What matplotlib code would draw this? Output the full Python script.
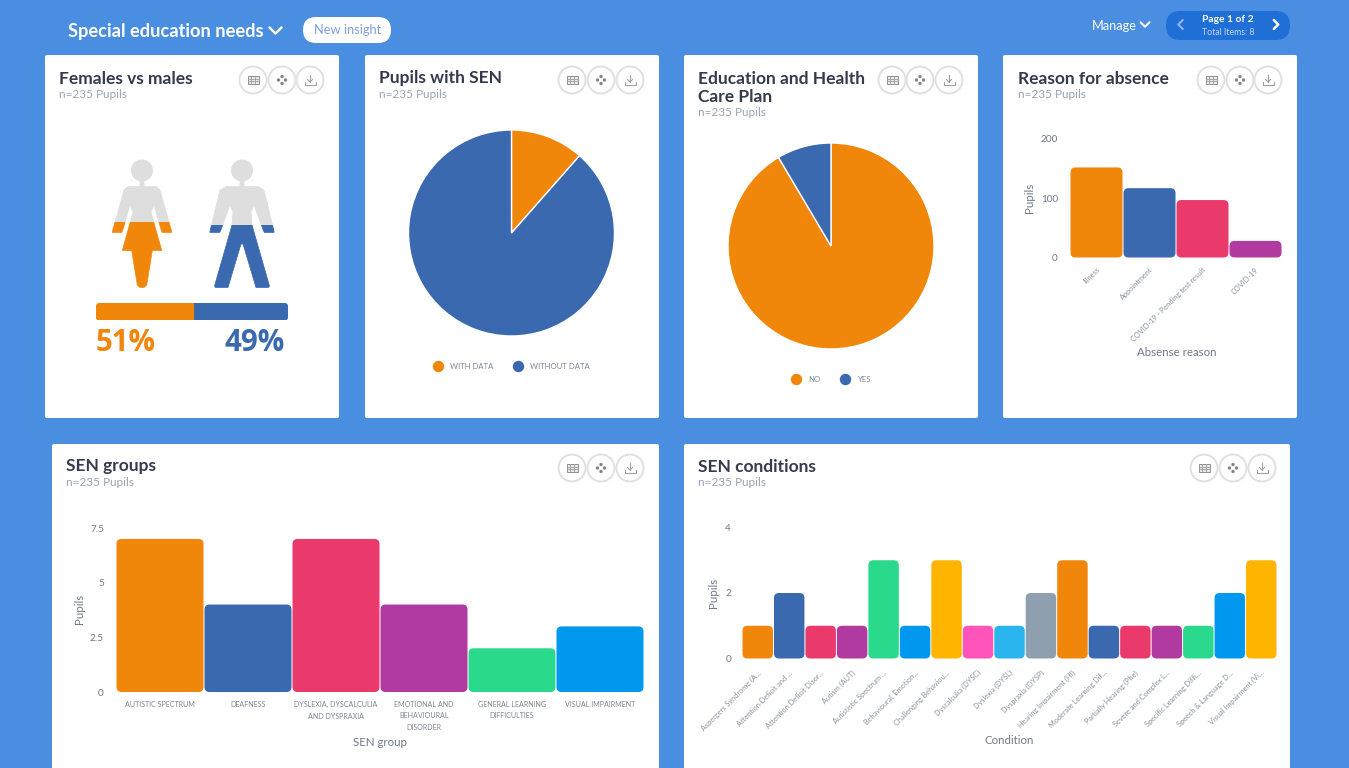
import matplotlib
matplotlib.use("Agg")
import matplotlib.pyplot as plt
from matplotlib.patches import FancyBboxPatch, Circle, Polygon, Rectangle
from matplotlib.lines import Line2D
from matplotlib.transforms import ScaledTranslation

W, H = 1349, 768
BG = "#4A8EE2"
ORANGE, BLUE, PINK, PURPLE, GREEN, SKY = "#F0860A", "#3A69B0", "#EA3A6B", "#B03AA0", "#2BD98C", "#0098EE"
YELLOW, HOTPINK, LIGHTBLUE, SLATE = "#FFB400", "#FF55BB", "#2BB5EE", "#8EA0B0"
TITLE_C, SUB_C, AXIS_C = "#333B4D", "#98A3B3", "#6F7A8A"
HEAD_FONT, BODY_FONT = "Lato", "Lato"

# Data
gender_labels = ["51%", "49%"]
gender_share = [51, 49]
sen_labels = ["WITH DATA", "WITHOUT DATA"]
sen_values = [27, 208]
ehcp_labels = ["NO", "YES"]
ehcp_values = [215, 20]
absence_reasons = ["Illness", "Appointment", "COVID-19 - Pending test result", "COVID-19"]
absence_values = [152, 117, 97, 28]
group_names = ["AUTISTIC SPECTRUM", "DEAFNESS", "DYSLEXIA, DYSCALCULIA\nAND DYSPRAXIA",
               "EMOTIONAL AND\nBEHAVIOURAL\nDISORDER", "GENERAL LEARNING\nDIFFICULTIES", "VISUAL IMPAIRMENT"]
group_values = [7, 4, 7, 4, 2, 3]
condition_names = ["Aspergers Syndrome (A...", "Attention Deficit and ...", "Attention Deficit Disor...",
                   "Autism (AUT)", "Autististic Spectrum ...", "Behavioural, Emotion...",
                   "Challenging Behaviou...", "Dyscalculia (DYSC)", "Dyslexia (DYSL)", "Dyspraxia (DYSP)",
                   "Hearing Impairment (HI)", "Moderate Learning Dif...", "Partially Hearing (Phe)",
                   "Severe and Complex L...", "Specific Learning Diffi...", "Speech & Language D...",
                   "Visual Impairment (Vi..."]
condition_values = [1, 2, 1, 1, 3, 1, 3, 1, 1, 2, 3, 1, 1, 1, 1, 2, 3]
condition_colors = [ORANGE, BLUE, PINK, PURPLE, GREEN, SKY, YELLOW, HOTPINK, LIGHTBLUE, SLATE,
                    ORANGE, BLUE, PINK, PURPLE, GREEN, SKY, YELLOW]

def fs(px):
    return px * 0.72

fig = plt.figure(figsize=(W / 100, H / 100), dpi=100, facecolor=BG)
page = fig.add_axes([0, 0, 1, 1], zorder=0)
page.set_xlim(0, W)
page.set_ylim(H, 0)
page.axis("off")

def axes_px(x0, y0, x1, y1):
    """Axes spanning a pixel box given with y measured from the top."""
    ax = fig.add_axes([x0 / W, 1 - y1 / H, (x1 - x0) / W, (y1 - y0) / H], zorder=2)
    ax.patch.set_alpha(0)
    return ax

def card(x0, y0, x1, y1):
    page.add_patch(FancyBboxPatch((x0, y0), x1 - x0, y1 - y0, boxstyle="round,pad=0,rounding_size=2",
                                  fc="white", ec="none", zorder=1))

def icon_buttons(xs, y):
    for i, x in enumerate(xs):
        page.add_patch(Circle((x, y), 13.5, fc="white", ec="#E0E0E0", lw=1.4, zorder=3))
        c = "#A0A0A0"
        if i == 0:
            page.add_patch(Rectangle((x - 5.5, y - 4), 11, 8, fc="#E8E8E8", ec="#909090", lw=0.7, zorder=4))
            page.plot([x - 5.5, x + 5.5], [y - 1.3, y - 1.3], color=c, lw=0.6, zorder=4)
            page.plot([x - 5.5, x + 5.5], [y + 1.3, y + 1.3], color=c, lw=0.6, zorder=4)
            for dx in (-2, 2):
                page.plot([x + dx, x + dx], [y - 4, y + 4], color=c, lw=0.6, zorder=4)
        elif i == 1:
            for dx, dy in ((0, -3.5), (-3.5, 0), (3.5, 0), (0, 3.5)):
                page.add_patch(Circle((x + dx, y + dy), 1.7, fc="#858585", ec="none", zorder=4))
        else:
            page.plot([x - 5.5, x - 5.5, x + 5.5, x + 5.5], [y + 1.5, y + 5, y + 5, y + 1.5], color=c, lw=0.8, zorder=4)
            page.plot([x, x], [y - 5, y + 2], color=c, lw=0.8, zorder=4)
            page.plot([x - 2.5, x, x + 2.5], [y - 0.5, y + 2, y - 0.5], color=c, lw=0.8, zorder=4)

def heading(x, lines, y=78.5):
    for i, line in enumerate(lines):
        page.text(x, y + i * 19, line, fontsize=fs(17.4), fontweight="bold", family=HEAD_FONT, color=TITLE_C,
                  va="center", ha="left", zorder=4)
    page.text(x, y + 16 + (len(lines) - 1) * 18, "n=235 Pupils", fontsize=fs(11.7), family=BODY_FONT,
              color=SUB_C, va="center", ha="left", zorder=4)

def chevron(x, y, size, color, lw, kind="down"):
    if kind == "down":
        xs, ys = [x - size, x, x + size], [y - size / 2, y + size / 2, y - size / 2]
    elif kind == "left":
        xs, ys = [x + size / 2, x - size / 2, x + size / 2], [y - size, y, y + size]
    else:
        xs, ys = [x - size / 2, x + size / 2, x - size / 2], [y - size, y, y + size]
    page.plot(xs, ys, color=color, lw=lw, zorder=4, solid_capstyle="round", solid_joinstyle="round")

def nudge(text, dx, dy):
    """Shift a tick label by screen pixels (dy positive is downward)."""
    text.set_transform(text.get_transform() + ScaledTranslation(dx / 100, -dy / 100, fig.dpi_scale_trans))

def rounded_bars(ax, values, colors, radius=5):
    """Rounded column per category, sized from the axes' own data scale."""
    bbox = ax.get_position()
    xspan = ax.get_xlim()[1] - ax.get_xlim()[0]
    yspan = ax.get_ylim()[1] - ax.get_ylim()[0]
    px_x = bbox.width * W / xspan
    px_y = bbox.height * H / yspan
    gap = 0.5 / px_x
    for i, (v, col) in enumerate(zip(values, colors)):
        ax.add_patch(FancyBboxPatch((i + gap, 0), 1 - 2 * gap, v,
                                    boxstyle=f"round,pad=0,rounding_size={radius / px_x}",
                                    mutation_aspect=px_x / px_y, fc=col, ec="none", clip_on=False))

def style_bar_axes(ax, n, ymax, yticks, yticklabels, pad):
    ax.set_xlim(0, n)
    ax.set_ylim(0, ymax)
    for s in ax.spines.values():
        s.set_visible(False)
    ax.set_yticks(yticks, yticklabels)
    ax.tick_params(axis="y", length=0, pad=fs(pad), labelsize=fs(10), labelcolor=AXIS_C)
    ax.tick_params(axis="x", length=0)
    for t in ax.get_yticklabels():
        t.set_family(BODY_FONT)

def place_axis_titles(ax, xlabel, ylabel, xl_px, yl_px, x0, y0, x1, y1):
    ax.set_xlabel(xlabel, fontsize=fs(11.5), family=BODY_FONT, color=AXIS_C, va="center")
    ax.set_ylabel(ylabel, fontsize=fs(11.5), family=BODY_FONT, color=AXIS_C, va="center")
    ax.xaxis.set_label_coords((xl_px[0] - x0) / (x1 - x0), (y1 - xl_px[1]) / (y1 - y0))
    ax.yaxis.set_label_coords((yl_px[0] - x0) / (x1 - x0), (y1 - yl_px[1]) / (y1 - y0))

def slanted_labels(ax, labels, px_below, size=7.4):
    ax.set_xticks([i + 0.5 for i in range(len(labels))])
    ax.set_xticklabels(labels, rotation=45, ha="right", va="center", rotation_mode="anchor",
                       fontsize=fs(size), family=BODY_FONT, color="#8A93A0")
    ax.tick_params(axis="x", pad=fs(px_below))
    for t in ax.get_xticklabels():
        nudge(t, 2, 0)

# Page header
page.text(68, 31, "Special education needs", color="white", fontsize=fs(18.3), fontweight="bold",
          family=HEAD_FONT, va="center", ha="left", zorder=4)
chevron(275.5, 30.5, 6, "white", 1.8)
page.add_patch(FancyBboxPatch((303, 17), 88, 26, boxstyle="round,pad=0,rounding_size=13", fc="white", ec="none", zorder=3))
page.text(347.5, 30, "New insight", color="#7F9FE0", fontsize=fs(12.9), family=BODY_FONT, va="center", ha="center", zorder=4)
page.text(1114.5, 25.5, "Manage", color="white", fontsize=fs(12.8), family=BODY_FONT, va="center", ha="center", zorder=4)
chevron(1145, 24.5, 4.5, "white", 1.5)
page.add_patch(FancyBboxPatch((1166, 11), 124, 29, boxstyle="round,pad=0,rounding_size=14.5", fc="#1F6FD6", ec="none", zorder=3))
page.text(1228, 19, "Page 1 of 2", color="white", fontsize=fs(10.2), fontweight="bold", family=BODY_FONT, va="center", ha="center", zorder=4)
page.text(1228, 32.5, "Total Items: 8", color="#C4D9F5", fontsize=fs(8.8), family=BODY_FONT, va="center", ha="center", zorder=4)
chevron(1180.5, 24.5, 4.5, "#8FB8EE", 1.5, "left")
chevron(1276, 24.5, 4.5, "white", 1.8, "right")

# Cards
for box in [(45, 55, 339, 418), (365, 55, 659, 418), (684, 55, 978, 418), (1003, 55, 1297, 418),
            (52, 444, 659, 775), (684, 444, 1290, 775)]:
    card(*box)

heading(59, ["Females vs males"])
heading(379, ["Pupils with SEN"])
heading(698, ["Education and Health", "Care Plan"])
heading(1018, ["Reason for absence"])
heading(66, ["SEN groups"], y=466.5)
heading(698, ["SEN conditions"], y=466.5)
for xs, y in [((253, 282, 310), 80), ((572, 601, 630), 80), ((892, 920, 949), 80), ((1211, 1240, 1268), 80),
              ((572, 601, 630), 468), ((1204, 1233, 1262), 468)]:
    icon_buttons(xs, y)

# Pictograms: outlines in pixels, filled from the feet up to each share
ICON_TOP, ICON_BOTTOM = 160, 287.5

def half_to_full(cx, half):
    right = [(2 * cx - x, y) for x, y in reversed(half)]
    return half + right

woman = half_to_full(142, [(140, 178), (140, 186.5), (128, 186.5), (124, 190), (112.5, 231), (112.5, 232.5), (121.5, 232.5),
                           (122.5, 231), (130, 205), (133, 212), (130, 223), (122.3, 250.5), (131.7, 250.5),
                           (137.3, 285), (140, 287.5)])
man = half_to_full(242, [(240, 178), (240, 186.5), (226, 186.5), (220, 190), (210, 231), (210, 232.5), (219.5, 232.5),
                         (220.5, 231), (230, 205), (233, 212), (232, 225), (214.5, 286), (215.5, 287.5),
                         (228, 287.5), (241, 244)])
figures = [(woman, (142, 170.5), gender_share[0], ORANGE), (man, (242, 170.5), gender_share[1], BLUE)]
for outline, head, share, col in figures:
    level = ICON_BOTTOM - (ICON_BOTTOM - ICON_TOP) * share / 100
    for color, box in (("#DEDEDE", (100, ICON_TOP - 3, 180, level - ICON_TOP + 3)),
                       (col, (100, level, 180, ICON_BOTTOM + 3 - level))):
        clip = Rectangle((box[0], box[1]), box[2], box[3], transform=page.transData)
        body = Polygon(outline, closed=True, fc=color, ec=color, lw=0.5, joinstyle="round", zorder=3)
        page.add_patch(body)
        body.set_clip_path(clip)
        face = Circle(head, 11, fc=color, ec="none", zorder=3)
        page.add_patch(face)
        face.set_clip_path(clip)

bar_ax = axes_px(96, 303, 288, 320.5)
bar_ax.set_xlim(0, sum(gender_share))
bar_ax.set_ylim(0, 1)
bar_ax.axis("off")
outer = FancyBboxPatch((0, 0), sum(gender_share), 1, boxstyle="round,pad=0,rounding_size=1.6",
                       mutation_aspect=0.11, fc="none", ec="none")
bar_ax.add_patch(outer)
left = 0
for share, col in zip(gender_share, [ORANGE, BLUE]):
    b = bar_ax.barh(0.5, share, left=left, height=1, color=col)[0]
    b.set_clip_path(outer)
    left += share
page.text(96, 343, gender_labels[0], color=ORANGE, fontsize=fs(29.5), fontweight="bold", family="Open Sans", va="center", ha="left", zorder=4)
page.text(285, 343, gender_labels[1], color=BLUE, fontsize=fs(29.5), fontweight="bold", family="Open Sans", va="center", ha="right", zorder=4)

# Pie charts
def pie_chart(cx, cy, r, values, labels, legend_y):
    ax = axes_px(cx - r, cy - r, cx + r, cy + r)
    ax.pie(values, colors=[ORANGE, BLUE], startangle=90, counterclock=False, radius=1,
           wedgeprops={"edgecolor": "white", "linewidth": 1.0})
    ax.set_xlim(-1, 1)
    ax.set_ylim(-1, 1)
    handles = [Line2D([], [], linestyle="none", marker="o", markersize=fs(10), color=c) for c in (ORANGE, BLUE)]
    legend = ax.legend(handles, labels, ncols=2, frameon=False, loc="center",
                       bbox_to_anchor=(0.5, (cy + r - legend_y) / (2 * r)), fontsize=fs(7.8),
                       labelcolor="#7E8794", handletextpad=0.94, columnspacing=2.5, handlelength=1.2, borderpad=0)
    for t in legend.get_texts():
        t.set_family(BODY_FONT)

pie_chart(511.5, 233, 103, sen_values, sen_labels, 366.5)
pie_chart(831, 246, 103, ehcp_values, ehcp_labels, 379.5)

# Reason for absence
box = (1070, 139, 1282, 257.5)
ax = axes_px(*box)
style_bar_axes(ax, len(absence_values), 200, [0, 100, 200], ["0", "100", "200"], 12)
rounded_bars(ax, absence_values, [ORANGE, BLUE, PINK, PURPLE])
slanted_labels(ax, absence_reasons, 11)
place_axis_titles(ax, "Absense reason", "Pupils", (1177, 353), (1030, 198), *box)

# SEN groups
box = (116, 528, 644, 692)
ax = axes_px(*box)
style_bar_axes(ax, len(group_values), 7.5, [0, 2.5, 5, 7.5], ["0", "2.5", "5", "7.5"], 12)
rounded_bars(ax, group_values, [ORANGE, BLUE, PINK, PURPLE, GREEN, SKY])
ax.set_xticks([i + 0.5 for i in range(len(group_names))])
ax.set_xticklabels(group_names, fontsize=fs(7.1), family=BODY_FONT, color="#7E8794", linespacing=1.75, va="top")
ax.tick_params(axis="x", pad=fs(9))
place_axis_titles(ax, "SEN group", "Pupils", (380, 742), (79, 609), *box)

# SEN conditions
box = (742, 527.5, 1277, 658.5)
ax = axes_px(*box)
style_bar_axes(ax, len(condition_values), 4, [0, 2, 4], ["0", "2", "4"], 11)
rounded_bars(ax, condition_values, condition_colors)
slanted_labels(ax, condition_names, 13)
place_axis_titles(ax, "Condition", "Pupils", (1009, 741), (713, 593), *box)

fig.savefig("out.png", dpi=100, facecolor=BG)
